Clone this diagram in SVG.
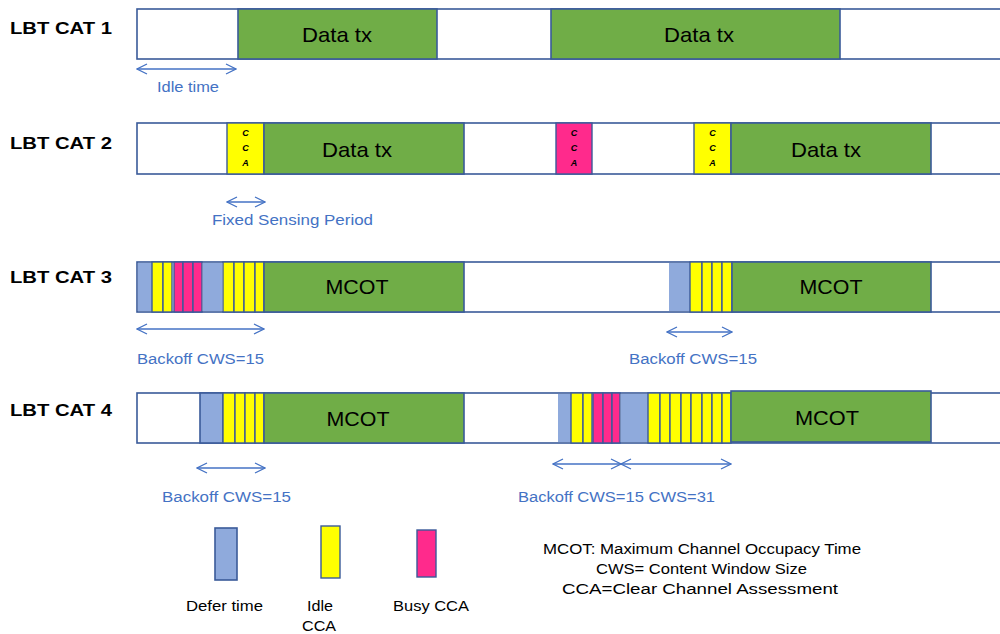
<svg xmlns="http://www.w3.org/2000/svg" width="1000" height="634" viewBox="0 0 1000 634">
  <style>
    .bar { fill: #ffffff; stroke: #3A5A99; stroke-width: 1.6; }
    .tx { fill: #70AD47; stroke: #3A5A99; stroke-width: 1.6; }
    .idle { fill: #FFFF00; stroke: #3A5A99; stroke-width: 1.4; }
    .busy { fill: #FF2A8C; stroke: #3A5A99; stroke-width: 1.4; }
    .defer { fill: #8FAADC; stroke: none; }
    .deferb { fill: #8FAADC; stroke: #3A5A99; stroke-width: 1.6; }
    .cat { font-family: "Liberation Sans", Arial, sans-serif; font-weight: bold; font-size: 17px; fill: #000; }
    .big { font-family: "Liberation Sans", Arial, sans-serif; font-size: 21px; fill: #000; text-anchor: middle; }
    .cca { font-family: "Liberation Sans", Arial, sans-serif; font-weight: bold; font-style: italic; font-size: 9px; fill: #000; text-anchor: middle; }
    .lbl { font-family: "Liberation Sans", Arial, sans-serif; font-size: 15.5px; fill: #4472C4; }
    .leg { font-family: "Liberation Sans", Arial, sans-serif; font-size: 15.5px; fill: #000; text-anchor: middle; }
    .dim { stroke: #4472C4; stroke-width: 1.3; fill: none; marker-start: url(#chev); marker-end: url(#chev); }
  </style>
  <defs>
    <marker id="chev" viewBox="0 0 12 12" refX="11" refY="6" markerWidth="12" markerHeight="12" markerUnits="userSpaceOnUse" orient="auto-start-reverse">
      <path d="M1,1 L11,6 L1,11" fill="none" stroke="#4472C4" stroke-width="1.3"/>
    </marker>
  </defs>

  <!-- LBT CAT 1 -->
  <g id="cat1">
    <text class="cat" x="10" y="34" textLength="102" lengthAdjust="spacingAndGlyphs">LBT CAT 1</text>
    <rect class="bar" x="137" y="9" width="870" height="50"/>
    <rect class="tx" x="238" y="9" width="199" height="50"/>
    <text class="big" x="337" y="42" textLength="70" lengthAdjust="spacingAndGlyphs">Data tx</text>
    <rect class="tx" x="551" y="9" width="289" height="50"/>
    <text class="big" x="699" y="42" textLength="70" lengthAdjust="spacingAndGlyphs">Data tx</text>
    <text class="lbl" x="157" y="92" textLength="62" lengthAdjust="spacingAndGlyphs">Idle time</text>
  </g>

  <!-- LBT CAT 2 -->
  <g id="cat2">
    <text class="cat" x="10" y="149" textLength="102" lengthAdjust="spacingAndGlyphs">LBT CAT 2</text>
    <rect class="bar" x="137" y="123" width="870" height="51"/>
    <rect class="idle" x="227" y="123" width="37" height="51"/>
    <text class="cca" x="245.5" y="136">C</text>
    <text class="cca" x="245.5" y="151">C</text>
    <text class="cca" x="245.5" y="166">A</text>
    <rect class="tx" x="264" y="123" width="200" height="51"/>
    <text class="big" x="357" y="157" textLength="70" lengthAdjust="spacingAndGlyphs">Data tx</text>
    <rect class="busy" x="556" y="123" width="36" height="51"/>
    <text class="cca" x="574" y="136">C</text>
    <text class="cca" x="574" y="151">C</text>
    <text class="cca" x="574" y="166">A</text>
    <rect class="idle" x="694" y="123" width="37" height="51"/>
    <text class="cca" x="712.5" y="136">C</text>
    <text class="cca" x="712.5" y="151">C</text>
    <text class="cca" x="712.5" y="166">A</text>
    <rect class="tx" x="731" y="123" width="200" height="51"/>
    <text class="big" x="826" y="157" textLength="70" lengthAdjust="spacingAndGlyphs">Data tx</text>
    <text class="lbl" x="212" y="225" textLength="161" lengthAdjust="spacingAndGlyphs">Fixed Sensing Period</text>
  </g>

  <!-- LBT CAT 3 -->
  <g id="cat3">
    <text class="cat" x="10" y="283" textLength="102" lengthAdjust="spacingAndGlyphs">LBT CAT 3</text>
    <rect class="bar" x="137" y="262" width="870" height="50"/>
    <rect class="defer" x="138" y="263" width="14" height="48"/>
    <rect class="idle" x="152" y="262" width="11" height="50"/>
    <rect class="idle" x="163" y="262" width="9" height="50"/>
    <rect class="busy" x="174" y="262" width="9" height="50"/>
    <rect class="busy" x="183" y="262" width="10" height="50"/>
    <rect class="busy" x="193" y="262" width="9" height="50"/>
    <rect class="defer" x="203" y="263" width="19" height="48"/>
    <rect class="idle" x="223" y="262" width="11" height="50"/>
    <rect class="idle" x="234" y="262" width="10" height="50"/>
    <rect class="idle" x="244" y="262" width="11" height="50"/>
    <rect class="idle" x="255" y="262" width="9" height="50"/>
    <rect class="tx" x="264" y="262" width="200" height="50"/>
    <text class="big" x="357" y="294" textLength="63" lengthAdjust="spacingAndGlyphs">MCOT</text>
    <rect class="defer" x="669" y="263" width="21" height="48"/>
    <rect class="idle" x="690" y="262" width="12" height="50"/>
    <rect class="idle" x="702" y="262" width="10" height="50"/>
    <rect class="idle" x="712" y="262" width="10" height="50"/>
    <rect class="idle" x="722" y="262" width="10" height="50"/>
    <rect class="tx" x="732" y="262" width="199" height="50"/>
    <text class="big" x="831" y="294" textLength="63" lengthAdjust="spacingAndGlyphs">MCOT</text>
    <text class="lbl" x="137" y="364" textLength="127" lengthAdjust="spacingAndGlyphs">Backoff CWS=15</text>
    <text class="lbl" x="629" y="364" textLength="128" lengthAdjust="spacingAndGlyphs">Backoff CWS=15</text>
  </g>

  <!-- LBT CAT 4 -->
  <g id="cat4">
    <text class="cat" x="10" y="416" textLength="102" lengthAdjust="spacingAndGlyphs">LBT CAT 4</text>
    <rect class="bar" x="137" y="393" width="870" height="50"/>
    <rect class="deferb" x="200" y="393" width="23" height="50"/>
    <rect class="idle" x="223" y="393" width="12" height="50"/>
    <rect class="idle" x="235" y="393" width="10" height="50"/>
    <rect class="idle" x="245" y="393" width="10" height="50"/>
    <rect class="idle" x="255" y="393" width="9" height="50"/>
    <rect class="tx" x="264" y="393" width="200" height="50"/>
    <text class="big" x="358" y="426" textLength="63" lengthAdjust="spacingAndGlyphs">MCOT</text>
    <rect class="defer" x="558" y="394" width="13" height="48"/>
    <rect class="idle" x="571" y="393" width="12" height="50"/>
    <rect class="idle" x="583" y="393" width="9" height="50"/>
    <rect class="busy" x="593" y="393" width="10" height="50"/>
    <rect class="busy" x="603" y="393" width="9" height="50"/>
    <rect class="busy" x="612" y="393" width="8" height="50"/>
    <rect class="defer" x="621" y="394" width="27" height="48"/>
    <rect class="idle" x="648" y="393" width="12" height="50"/>
    <rect class="idle" x="660" y="393" width="10" height="50"/>
    <rect class="idle" x="670" y="393" width="11" height="50"/>
    <rect class="idle" x="681" y="393" width="10" height="50"/>
    <rect class="idle" x="691" y="393" width="11" height="50"/>
    <rect class="idle" x="702" y="393" width="10" height="50"/>
    <rect class="idle" x="712" y="393" width="10" height="50"/>
    <rect class="idle" x="722" y="393" width="9" height="50"/>
    <rect class="tx" x="731" y="391" width="200" height="51"/>
    <text class="big" x="827" y="425" textLength="64" lengthAdjust="spacingAndGlyphs">MCOT</text>
    <text class="lbl" x="162" y="502" textLength="129" lengthAdjust="spacingAndGlyphs">Backoff CWS=15</text>
    <text class="lbl" x="518" y="502" textLength="197" lengthAdjust="spacingAndGlyphs">Backoff CWS=15 CWS=31</text>
  </g>

  <!-- dimension arrows -->
  <g id="connectors">
    <line class="dim" x1="137" y1="69" x2="236" y2="69"/>
    <line class="dim" x1="227" y1="202" x2="265" y2="202"/>
    <line class="dim" x1="137" y1="329" x2="264" y2="329"/>
    <line class="dim" x1="667" y1="332" x2="732" y2="332"/>
    <line class="dim" x1="197" y1="468" x2="265" y2="468"/>
    <line class="dim" x1="553" y1="464" x2="621" y2="464"/>
    <line class="dim" x1="621" y1="464" x2="731" y2="464"/>
  </g>

  <!-- legend -->
  <g id="legend">
    <rect class="deferb" x="215" y="528" width="22" height="52"/>
    <text class="leg" x="224.5" y="611" textLength="77" lengthAdjust="spacingAndGlyphs">Defer time</text>
    <rect class="idle" x="321" y="526" width="19" height="52" stroke-width="1.6"/>
    <text class="leg" x="320" y="611" textLength="26" lengthAdjust="spacingAndGlyphs">Idle</text>
    <text class="leg" x="319" y="631" textLength="34" lengthAdjust="spacingAndGlyphs">CCA</text>
    <rect class="busy" x="417" y="530" width="19" height="47" stroke-width="1.6"/>
    <text class="leg" x="431" y="611" textLength="76" lengthAdjust="spacingAndGlyphs">Busy CCA</text>
  </g>

  <g id="notes">
    <text class="leg" x="702" y="554" textLength="318" lengthAdjust="spacingAndGlyphs">MCOT:  Maximum Channel Occupacy Time</text>
    <text class="leg" x="701.5" y="574" textLength="211" lengthAdjust="spacingAndGlyphs">CWS=  Content Window Size</text>
    <text class="leg" x="700" y="594" textLength="276" lengthAdjust="spacingAndGlyphs">CCA=Clear Channel Assessment</text>
  </g>
</svg>
